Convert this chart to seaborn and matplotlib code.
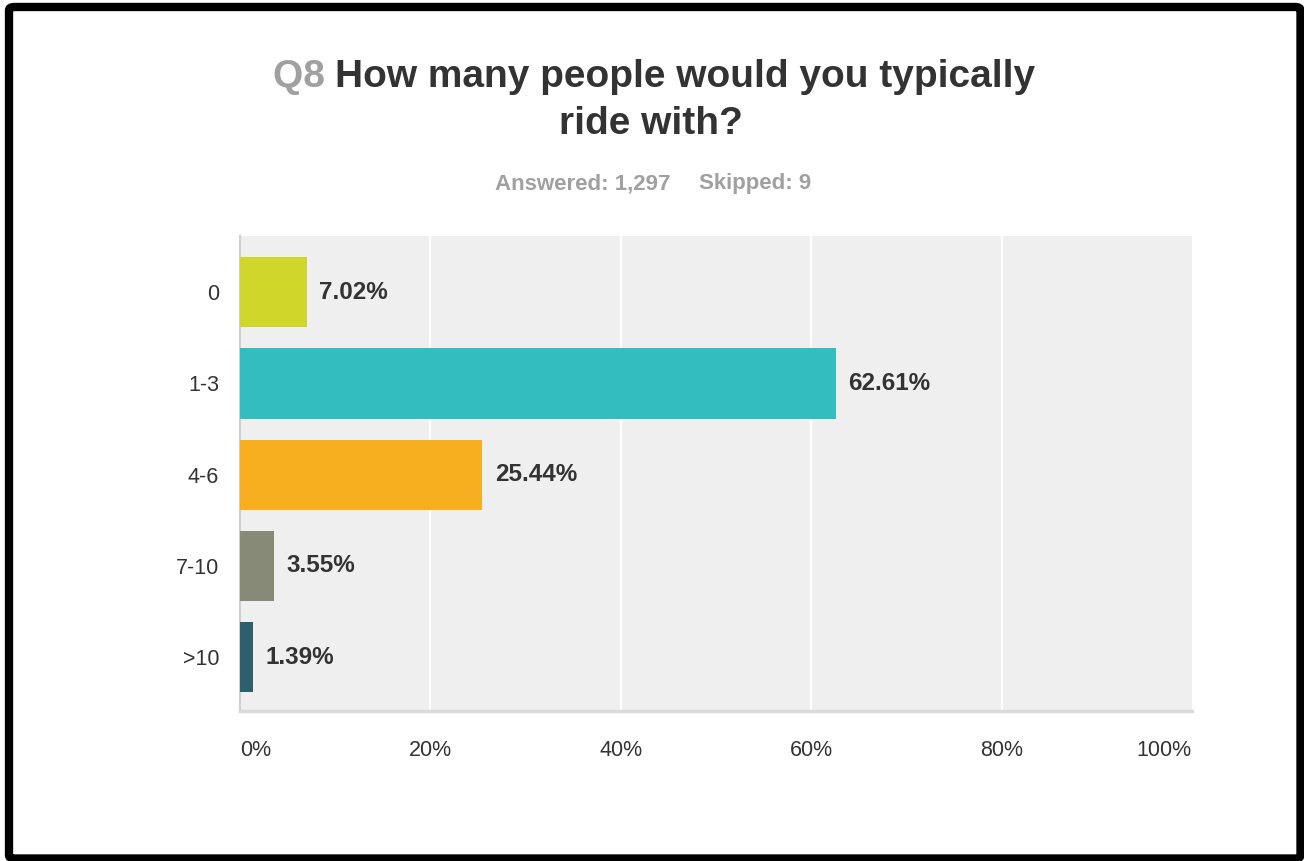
import matplotlib
matplotlib.use("Agg")
import matplotlib.pyplot as plt
from matplotlib.patches import FancyBboxPatch
import seaborn as sns
import pandas as pd

categories = ["0", "1-3", "4-6", "7-10", ">10"]
percentages = [7.02, 62.61, 25.44, 3.55, 1.39]
bar_colors = ["#D0D62A", "#33BDBE", "#F7AF1F", "#888A78", "#2D5F6D"]
x_ticks = [0, 20, 40, 60, 80, 100]
x_tick_labels = ["0%", "20%", "40%", "60%", "80%", "100%"]
question_number = "Q8"
question_line1 = "How many people would you typically"
question_line2 = "ride with?"
answered_text = "Answered: 1,297"
skipped_text = "Skipped: 9"

sns.set_theme(style="white")
plt.rcParams["font.family"] = ["Liberation Sans", "DejaVu Sans"]

W, H = 1304, 861
fig = plt.figure(figsize=(W / 100, H / 100), dpi=100)
fig.patch.set_facecolor("white")

ax = fig.add_axes([240 / W, 1 - 711 / H, (1192 - 240) / W, (711 - 236) / H])
ax.set_facecolor("#EFEFEF")

df = pd.DataFrame({"answer": categories, "pct": percentages})
sns.barplot(data=df, x="pct", y="answer", hue="answer", palette=bar_colors,
            order=categories, hue_order=categories, legend=False,
            width=0.77, saturation=1, linewidth=0, ax=ax, zorder=3)

ax.set_xlim(0, 100)
ax.set_ylim(4.59, -0.615)
ax.set_xlabel("")
ax.set_ylabel("")

# vertical white gridlines
for t in x_ticks[1:-1]:
    ax.axvline(t, color="white", lw=1.6, zorder=1)

for s in ["top", "right"]:
    ax.spines[s].set_visible(False)
ax.spines["left"].set_color("#CFCFCF")
ax.spines["left"].set_linewidth(1.5)
ax.spines["bottom"].set_color("#DADADA")
ax.spines["bottom"].set_linewidth(2.5)

ax.set_xticks(x_ticks)
ax.set_xticklabels(x_tick_labels, fontsize=15.5, color="#333333")
for i, lbl in enumerate(ax.get_xticklabels()):
    if i == 0:
        lbl.set_ha("left")
    elif i == len(x_ticks) - 1:
        lbl.set_ha("right")
ax.tick_params(axis="x", length=0, pad=21)
ax.tick_params(axis="y", length=0, pad=15, labelsize=15.5, labelcolor="#333333")

# value labels at the end of each bar
for i, v in enumerate(percentages):
    ax.annotate(f"{v:.2f}%", xy=(v, i), xytext=(9, 0), textcoords="offset points",
                va="center", ha="left", fontsize=17.5, fontweight="bold",
                color="#333333", zorder=4)

# title: grey question number followed by dark question text
renderer = fig.canvas.get_renderer()
t_num = fig.text(0, 0, question_number + " ", fontsize=28, fontweight="bold",
                 color="#A0A0A0")
t_q = fig.text(0, 0, question_line1, fontsize=28, fontweight="bold",
               color="#333333")
w_num = t_num.get_window_extent(renderer).width
w_q = t_q.get_window_extent(renderer).width
start = 654 - (w_num + w_q) / 2
y1 = 1 - 77 / H
t_num.set_position((start / W, y1))
t_num.set_va("center")
t_q.set_position(((start + w_num) / W, y1))
t_q.set_va("center")
fig.text(651 / W, 1 - 124 / H, question_line2, fontsize=28, fontweight="bold",
         color="#333333", ha="center", va="center")

fig.text(583 / W, 1 - 184 / H, answered_text, fontsize=16, fontweight="bold",
         color="#A0A0A0", ha="center", va="center")
fig.text(755 / W, 1 - 184 / H, skipped_text, fontsize=16, fontweight="bold",
         color="#A0A0A0", ha="center", va="center")

# black frame around the whole figure
frame = FancyBboxPatch((9 / W, 2.5 / H), (1300.5 - 9) / W, (858.5 - 7) / H,
                       boxstyle="round,pad=0,rounding_size=0.004",
                       transform=fig.transFigure, fill=False,
                       edgecolor="black", linewidth=6, zorder=10)
fig.patches.append(frame)

fig.savefig("out.png", dpi=100, facecolor="white")
